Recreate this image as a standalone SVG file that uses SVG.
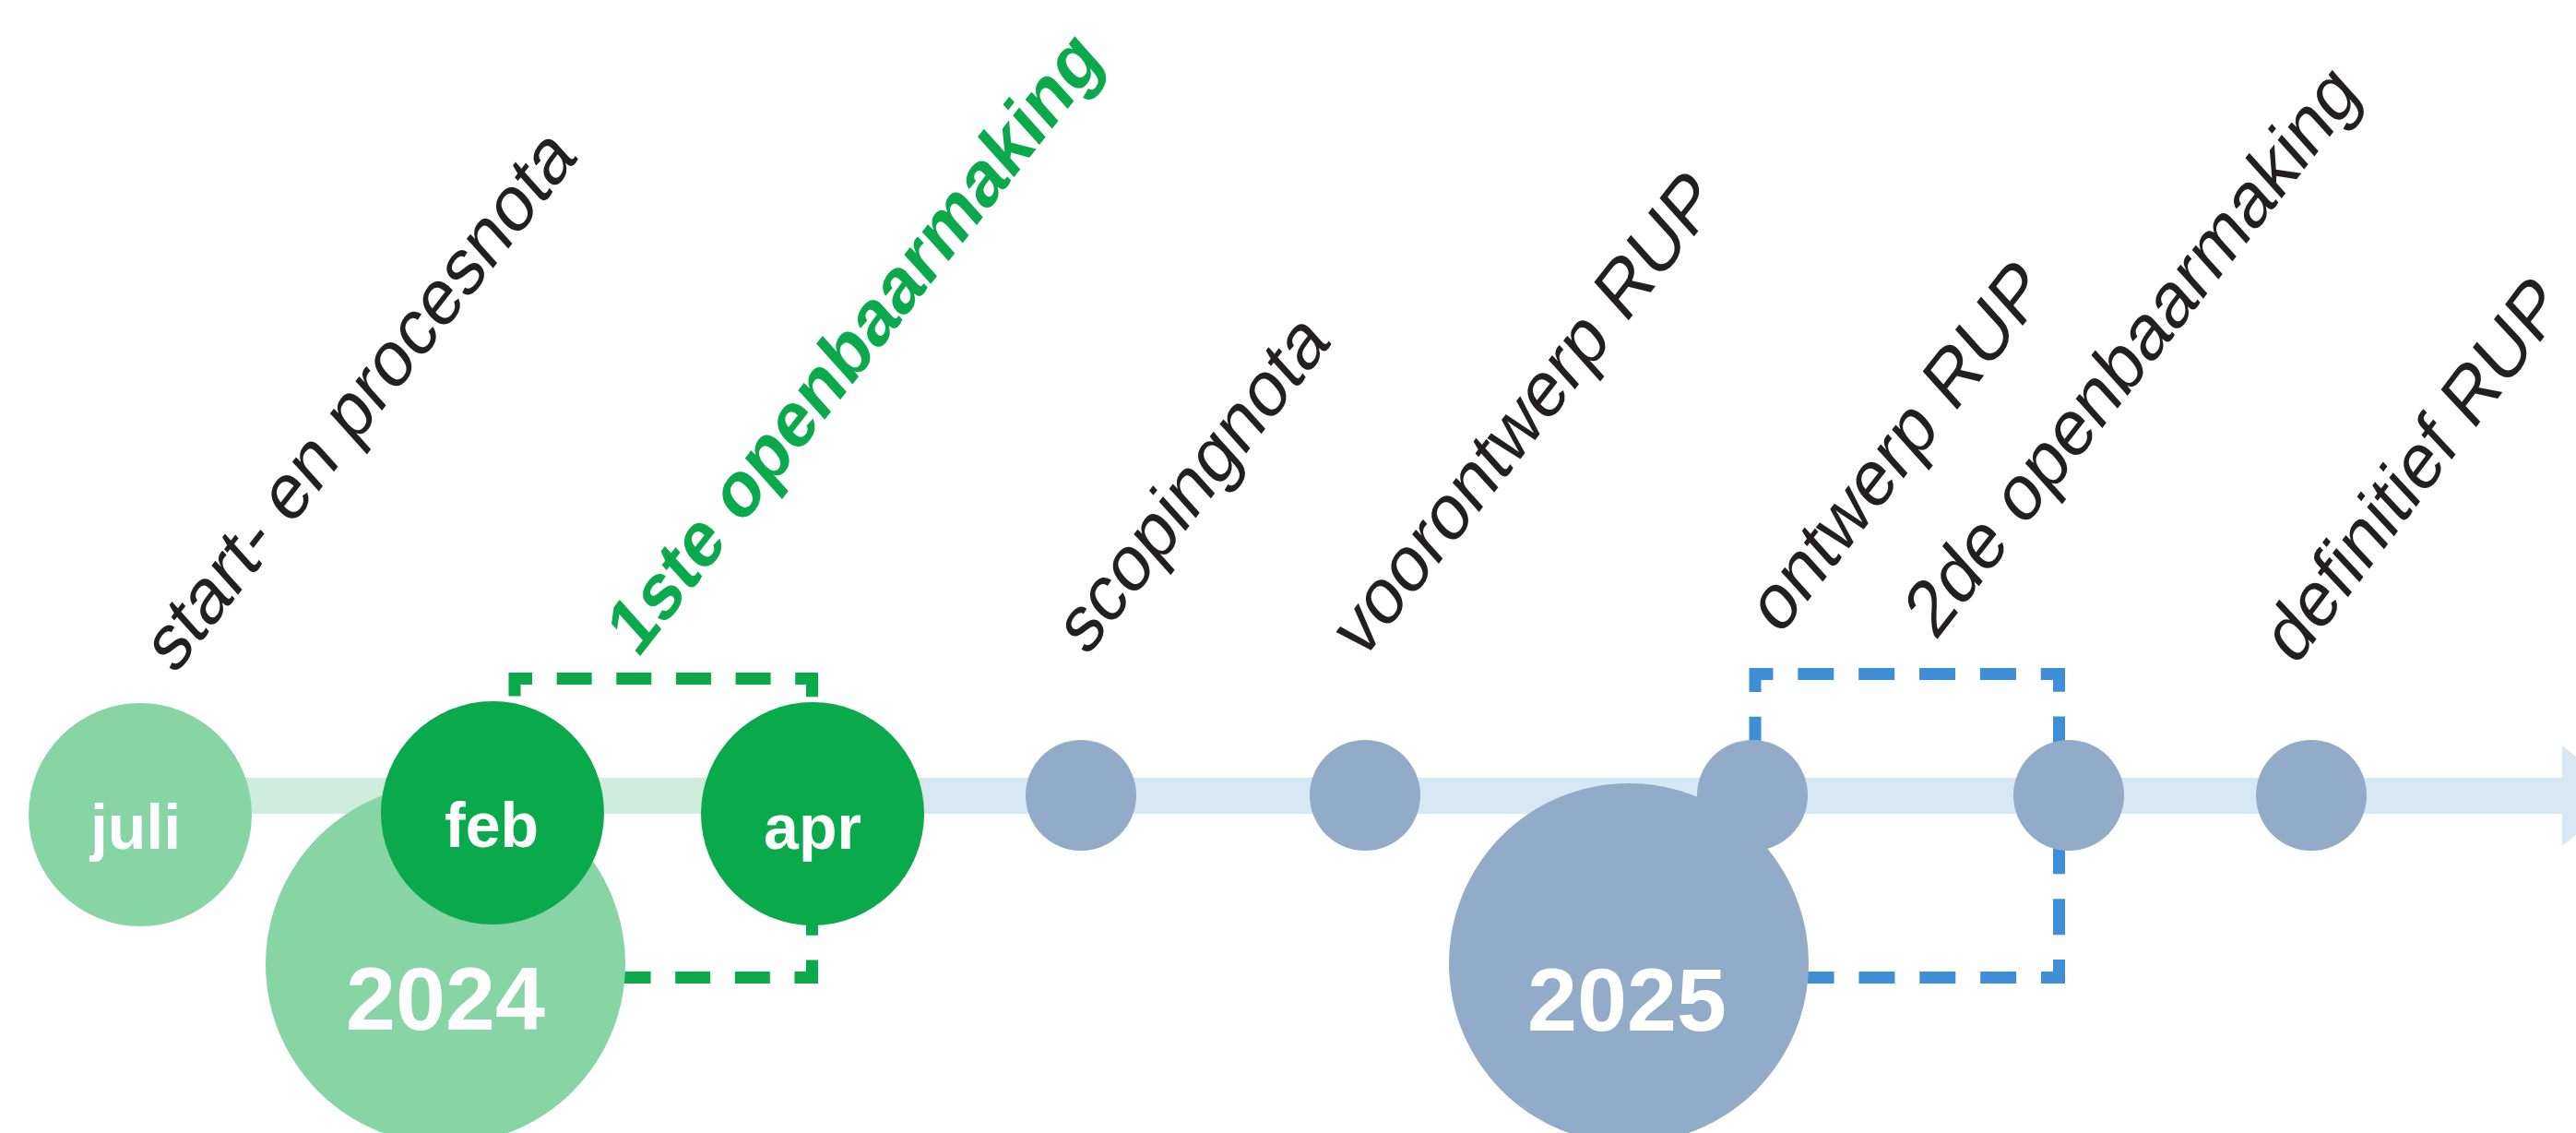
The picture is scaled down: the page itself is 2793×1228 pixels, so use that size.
<svg xmlns="http://www.w3.org/2000/svg" width="2793" height="1228" viewBox="0 0 2793 1228">
  <style>
    .lbl { font-family: "Liberation Sans", Arial, Helvetica, sans-serif; font-size: 80px; fill: #231f20; }
    .lbl-hi { font-weight: bold; fill: #0aa94b; }
    .mon { font-family: "Liberation Sans", Arial, Helvetica, sans-serif; font-weight: bold; font-size: 68px; fill: #ffffff; text-anchor: middle; }
    .year { font-family: "Liberation Sans", Arial, Helvetica, sans-serif; font-weight: bold; font-size: 97px; fill: #ffffff; text-anchor: middle; }
    .dot-past { fill: #87d4a5; }
    .dot-now { fill: #0aa94b; }
    .dot-next { fill: #91abc9; }
    .box-g { fill: none; stroke: #0aa94b; stroke-width: 13; stroke-dasharray: 38 26.65; stroke-dashoffset: 19; }
    .box-b { fill: none; stroke: #3e8fd8; stroke-width: 13; stroke-dasharray: 39 26.85; stroke-dashoffset: 19.5; }
  </style>

  <!-- timeline bar with arrow head -->
  <g id="connectors">
    <rect x="1000" y="843" width="1779" height="39" fill="#d7e8f4"/>
    <polygon points="2778,808 2845,862 2778,917" fill="#d7e8f4"/>
    <rect x="152" y="843" width="850" height="39" fill="#cfecdc"/>
    <path class="box-g" d="M558,735.5 H880.5 V1059.5 H558 Z"/>
    <path class="box-b" d="M1903,730.5 H2232.5 V1059.5 H1903 Z"/>
  </g>

  <!-- year markers -->
  <g id="year-2024">
    <circle class="dot-past" cx="483" cy="1045" r="195"/>
    <text class="year" x="483" y="1116">2024</text>
  </g>
  <g id="year-2025">
    <circle class="dot-next" cx="1766" cy="1044" r="195"/>
    <text class="year" x="1764" y="1117">2025</text>
  </g>

  <!-- milestones -->
  <g id="start-procesnota">
    <circle class="dot-past" cx="152" cy="883" r="121"/>
    <text class="mon" x="147" y="920">juli</text>
    <text class="lbl" transform="translate(189,733) rotate(-52) skewX(-10)">start- en procesnota</text>
  </g>
  <g id="openbaarmaking-1">
    <circle class="dot-now" cx="534" cy="881" r="121"/>
    <text class="mon" x="533" y="918">feb</text>
    <circle class="dot-now" cx="881" cy="882" r="121"/>
    <text class="mon" x="881" y="920">apr</text>
    <text class="lbl lbl-hi" transform="translate(691,715) rotate(-52) skewX(-10)">1ste openbaarmaking</text>
  </g>
  <g id="scopingnota">
    <circle class="dot-next" cx="1172" cy="862" r="60"/>
    <text class="lbl" transform="translate(1178,713) rotate(-52) skewX(-10)">scopingnota</text>
  </g>
  <g id="voorontwerp">
    <circle class="dot-next" cx="1480" cy="862" r="60"/>
    <text class="lbl" transform="translate(1477,717) rotate(-52) skewX(-10)">voorontwerp RUP</text>
  </g>
  <g id="ontwerp">
    <circle class="dot-next" cx="1900" cy="862" r="60"/>
    <text class="lbl" transform="translate(1929,691) rotate(-52) skewX(-10)">ontwerp RUP</text>
  </g>
  <g id="openbaarmaking-2">
    <circle class="dot-next" cx="2243" cy="862" r="60"/>
    <text class="lbl" transform="translate(2098,696) rotate(-52) skewX(-10)">2de openbaarmaking</text>
  </g>
  <g id="definitief">
    <circle class="dot-next" cx="2506" cy="862" r="60"/>
    <text class="lbl" transform="translate(2488,724) rotate(-53) skewX(-10)">definitief RUP</text>
  </g>
</svg>
